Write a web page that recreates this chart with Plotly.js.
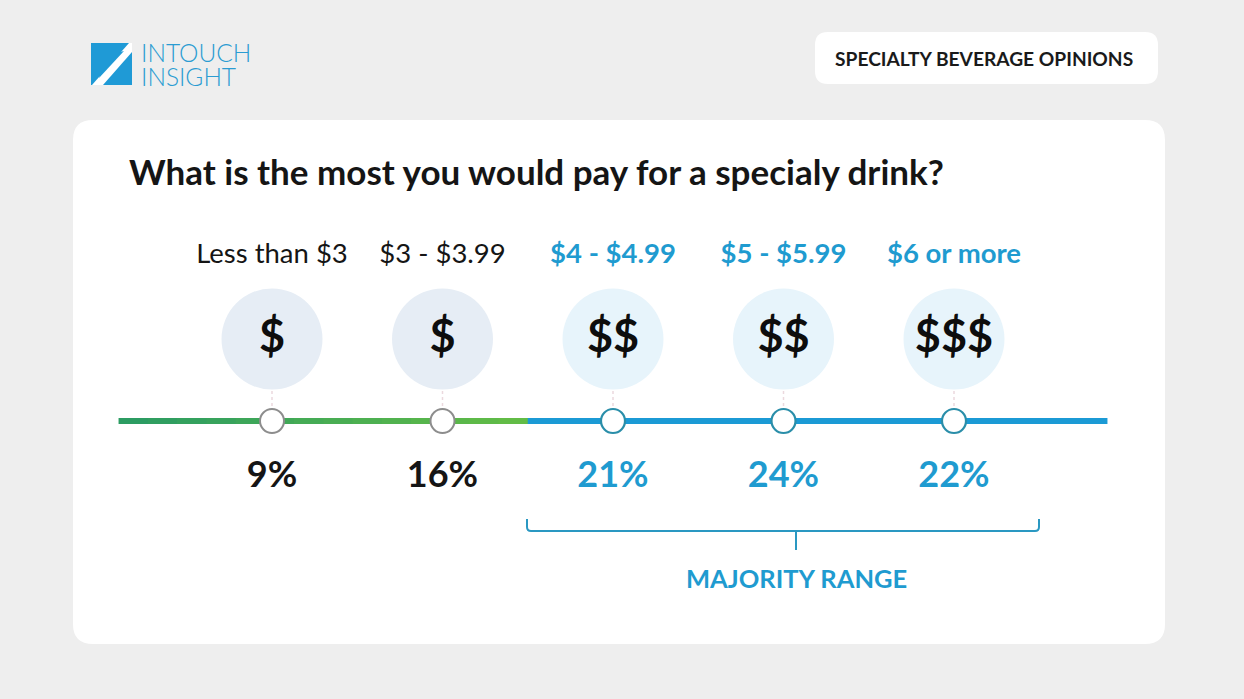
<!DOCTYPE html>
<html>
<head>
<meta charset="utf-8">
<script src="https://cdn.plot.ly/plotly-3.0.1.min.js"></script>
<style>
  html, body { margin: 0; padding: 0; background: #eeeeee; }
  #chart { width: 1244px; height: 699px; }
</style>
</head>
<body>
<div id="chart"></div>
<script>
// ---- data ----
const priceRanges = ['Less than $3', '$3 - $3.99', '$4 - $4.99', '$5 - $5.99', '$6 or more'];
const priceTiers  = ['$', '$', '$$', '$$', '$$$'];
const sharePct    = [9, 16, 21, 24, 22];
const inMajority  = [false, false, true, true, true];

const chartTitle  = 'What is the most you would pay for a specialy drink?';
const headerLabel = 'SPECIALTY BEVERAGE OPINIONS';
const rangeLabel  = 'MAJORITY RANGE';
const brandLines  = ['INTOUCH', 'INSIGHT'];

// ---- styling ----
const FONT = 'Lato, "Open Sans", sans-serif';
const BLUE = '#1b9ad5';
const TEXT_BLUE = '#1f9bd0';
const RING_BLUE = '#2a8ea9';
const RING_GRAY = '#8d8d8d';
const INK = '#151515';

// vertical rows (y axis runs top -> bottom)
const ROW_LABEL = 256, ROW_ICON = 339, ROW_NODE = 421, ROW_PCT = 478;

const idx = priceRanges.map((_, i) => i);
const pick = (arr, flag) => arr.filter((_, i) => inMajority[i] === flag);
const lowIdx = pick(idx, false), majIdx = pick(idx, true);
const boundary = majIdx[0] - 0.5;              // where the majority range begins
const lineStart = -0.9, lineEnd = idx.length - 1 + 0.9;

const traces = [];

// timeline: green part (gradient in short pieces), then blue part
const gA = [0x2c, 0x9c, 0x62], gB = [0x62, 0xbc, 0x46];
const nSeg = 14;
for (let s = 0; s < nSeg; s++) {
  const t = s / (nSeg - 1);
  const c = gA.map((v, k) => Math.round(v + (gB[k] - v) * t));
  const x0 = lineStart + (boundary - lineStart) * s / nSeg;
  const x1 = lineStart + (boundary - lineStart) * (s + 1) / nSeg + 0.01;
  traces.push({ x: [x0, x1], y: [ROW_NODE, ROW_NODE], mode: 'lines',
    line: { color: `rgb(${c.join(',')})`, width: 6 }, hoverinfo: 'skip' });
}
traces.push({ x: [boundary, lineEnd], y: [ROW_NODE, ROW_NODE], mode: 'lines',
  line: { color: BLUE, width: 6 }, hoverinfo: 'skip' });

// faint dotted connectors between icon circles and nodes
const cx = [], cy = [];
idx.forEach(i => { cx.push(i, i, null); cy.push(ROW_ICON + 52, ROW_NODE - 13, null); });
traces.push({ x: cx, y: cy, mode: 'lines', line: { color: '#ecd9de', width: 1.5, dash: 'dot' }, hoverinfo: 'skip' });

// icon circles
traces.push({ x: lowIdx, y: lowIdx.map(() => ROW_ICON), mode: 'markers',
  marker: { size: 101, color: '#e6edf5', line: { width: 0 } }, hoverinfo: 'skip' });
traces.push({ x: majIdx, y: majIdx.map(() => ROW_ICON), mode: 'markers',
  marker: { size: 101, color: '#e7f4fb', line: { width: 0 } }, hoverinfo: 'skip' });

// nodes on the timeline
traces.push({ x: lowIdx, y: lowIdx.map(() => ROW_NODE), mode: 'markers',
  marker: { size: 24, color: '#ffffff', line: { width: 2, color: RING_GRAY } }, hoverinfo: 'skip' });
traces.push({ x: majIdx, y: majIdx.map(() => ROW_NODE), mode: 'markers',
  marker: { size: 24, color: '#ffffff', line: { width: 2.2, color: RING_BLUE } }, hoverinfo: 'skip' });

// dollar glyphs
traces.push({ x: idx, y: idx.map(() => ROW_ICON + 2), mode: 'text', text: priceTiers,
  textposition: 'middle center', textfont: { family: FONT, size: 45, color: '#0d0d0d', weight: 700 }, hoverinfo: 'skip' });

// price range labels
traces.push({ x: lowIdx, y: lowIdx.map(() => ROW_LABEL), mode: 'text', text: pick(priceRanges, false),
  textposition: 'middle center', textfont: { family: FONT, size: 27.5, color: INK, weight: 400 }, hoverinfo: 'skip' });
traces.push({ x: majIdx, y: majIdx.map(() => ROW_LABEL), mode: 'text', text: pick(priceRanges, true),
  textposition: 'middle center', textfont: { family: FONT, size: 27.5, color: TEXT_BLUE, weight: 700 }, hoverinfo: 'skip' });

// percentage labels
traces.push({ x: lowIdx, y: lowIdx.map(() => ROW_PCT), mode: 'text', text: pick(sharePct, false).map(v => v + '%'),
  textposition: 'middle center', textfont: { family: FONT, size: 36, color: INK, weight: 700 }, hoverinfo: 'skip' });
traces.push({ x: majIdx, y: majIdx.map(() => ROW_PCT), mode: 'text', text: pick(sharePct, true).map(v => v + '%'),
  textposition: 'middle center', textfont: { family: FONT, size: 36, color: TEXT_BLUE, weight: 700 }, hoverinfo: 'skip' });

// ---- page furniture on a pixel-scaled overlay axis ----
function roundRect(x0, y0, x1, y1, r) {
  return `M ${x0 + r},${y0} L ${x1 - r},${y0} Q ${x1},${y0} ${x1},${y0 + r} L ${x1},${y1 - r} ` +
         `Q ${x1},${y1} ${x1 - r},${y1} L ${x0 + r},${y1} Q ${x0},${y1} ${x0},${y1 - r} ` +
         `L ${x0},${y0 + r} Q ${x0},${y0} ${x0 + r},${y0} Z`;
}
const px = { xref: 'x2', yref: 'y' };
const shapes = [
  Object.assign({ type: 'path', path: roundRect(73, 120, 1165, 644, 20), fillcolor: '#ffffff', line: { width: 0 }, layer: 'below' }, px),
  Object.assign({ type: 'path', path: roundRect(815, 32, 1158, 84, 13), fillcolor: '#ffffff', line: { width: 0 }, layer: 'below' }, px),
  // logo mark: blue square crossed by a white band with a blue slot inside
  Object.assign({ type: 'rect', x0: 91, x1: 132, y0: 43, y1: 85, fillcolor: '#1f9ad6', line: { width: 0 }, layer: 'below' }, px),
  Object.assign({ type: 'path', path: 'M 92,85 L 103,85 L 132,52 L 132,43 L 129,43 Z', fillcolor: '#ffffff', line: { width: 0 }, layer: 'below' }, px),
  Object.assign({ type: 'path', path: 'M 99,78 L 100,74 L 120,52 L 124,51 Z', fillcolor: '#1f9ad6', line: { width: 0 }, layer: 'below' }, px),
  // majority bracket
  Object.assign({ type: 'path', path: 'M 527,519 L 527,527 Q 527,531 531,531 L 1035,531 Q 1039,531 1039,527 L 1039,519',
    line: { color: '#2a98c2', width: 2 } }, px),
  Object.assign({ type: 'line', x0: 796, x1: 796, y0: 531, y1: 550, line: { color: '#2a98c2', width: 2 } }, px)
];

const annotations = [
  Object.assign({ x: 127, y: 171, text: chartTitle, showarrow: false, xanchor: 'left', yanchor: 'middle',
    font: { family: FONT, size: 35, color: INK, weight: 700 } }, px),
  Object.assign({ x: 984, y: 58, text: headerLabel, showarrow: false, xanchor: 'center', yanchor: 'middle',
    font: { family: FONT, size: 19.2, color: '#1a1a1a', weight: 700 } }, px),
  Object.assign({ x: 796, y: 578, text: rangeLabel, showarrow: false, xanchor: 'center', yanchor: 'middle',
    font: { family: FONT, size: 25.5, color: TEXT_BLUE, weight: 700 } }, px),
  Object.assign({ x: 139, y: 52, text: brandLines[0], showarrow: false, xanchor: 'left', yanchor: 'middle',
    font: { family: FONT, size: 24.5, color: '#2b9cd2', weight: 300 } }, px),
  Object.assign({ x: 139, y: 76, text: brandLines[1], showarrow: false, xanchor: 'left', yanchor: 'middle',
    font: { family: FONT, size: 24.5, color: '#2b9cd2', weight: 300 } }, px)
];

const step = 170.5, firstPx = 272;
const layout = {
  width: 1244, height: 699,
  margin: { l: 0, r: 0, t: 0, b: 0 },
  paper_bgcolor: '#eeeeee', plot_bgcolor: 'rgba(0,0,0,0)',
  showlegend: false,
  xaxis: { range: [-firstPx / step, (1244 - firstPx) / step], visible: false, fixedrange: true },
  xaxis2: { range: [0, 1244], visible: false, overlaying: 'x', anchor: 'y', fixedrange: true },
  yaxis: { range: [699, 0], visible: false, fixedrange: true },
  shapes, annotations
};

Plotly.newPlot('chart', traces, layout, { displayModeBar: false, staticPlot: true });
</script>
</body>
</html>
